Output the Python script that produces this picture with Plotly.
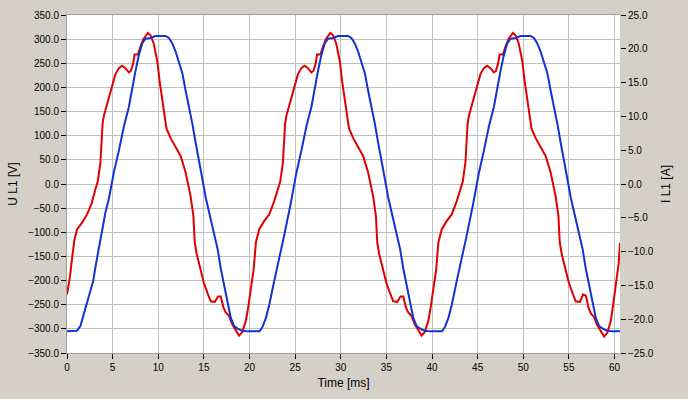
import plotly.graph_objects as go

# ---- Voltage U L1 [V] (left axis), red ----
red_time_1 = [0, 0.3, 0.55, 0.8, 1.1, 1.65, 2.2, 2.7, 3.1, 3.37, 3.66, 3.8, 3.9, 4.05, 4.4, 4.76,
              5.05, 5.3, 5.68, 6.04, 6.4, 6.78, 7.0, 7.25, 7.4, 7.77, 8.06, 8.4, 8.86, 9.16, 9.5, 9.9,
              10.15, 10.44, 10.7, 10.9, 11.36, 11.9, 12.45, 13.0, 13.3, 13.55, 13.85, 14.0, 14.2, 14.6,
              15.0, 15.4, 15.75, 16.2, 16.55, 16.85, 17.15, 17.4, 17.75, 18.1, 18.5, 18.85, 19.2, 19.6, 19.85]
red_volt_1 = [-229, -195, -155, -117, -94, -80, -63, -40, -12, 5, 44, 100, 125, 142, 166, 190,
              207, 227, 240, 245, 240, 231, 234, 250, 268, 268, 285, 301, 313, 308, 291, 254,
              213, 173, 139, 115, 95, 78, 58, 24, 0, -26, -66, -121, -144, -175,
              -205, -226, -243, -244, -233, -233, -256, -266, -273, -290, -304, -314, -307, -283, -256]

red_time_2 = [20.15, 20.45, 20.7, 21.06, 21.6, 22.16, 22.7, 23.1, 23.37, 23.66, 23.8, 23.9, 24.05, 24.4, 24.76,
              25.05, 25.3, 25.68, 26.04, 26.4, 26.78, 27.0, 27.25, 27.4, 27.77, 28.06, 28.4, 28.86, 29.16, 29.5, 29.9,
              30.15, 30.44, 30.7, 30.9, 31.36, 31.9, 32.45, 33.0, 33.3, 33.55, 33.85, 34.0, 34.2, 34.6,
              35.0, 35.4, 35.75, 36.2, 36.55, 36.85, 37.15, 37.4, 37.75, 38.1, 38.5, 38.85, 39.2, 39.6, 39.85]
red_volt_2 = [-216, -178, -121, -94, -77, -63, -36, -12, 5, 44, 100, 125, 142, 166, 190,
              207, 227, 240, 245, 240, 231, 234, 250, 268, 268, 285, 301, 313, 308, 291, 254,
              213, 173, 139, 115, 95, 78, 58, 24, 0, -26, -66, -121, -144, -175,
              -205, -226, -243, -244, -233, -233, -256, -266, -273, -290, -304, -314, -307, -283, -256]

red_time_3 = [40.15, 40.45, 40.7, 41.06, 41.6, 42.16, 42.7, 43.1, 43.37, 43.66, 43.8, 43.9, 44.05, 44.4, 44.76,
              45.05, 45.3, 45.68, 46.04, 46.4, 46.78, 47.0, 47.25, 47.4, 47.77, 48.06, 48.4, 48.86, 49.16, 49.5, 49.9,
              50.15, 50.44, 50.7, 50.9, 51.36, 51.9, 52.45, 53.0, 53.3, 53.55, 53.85, 54.0, 54.2, 54.6,
              55.0, 55.4, 55.75, 56.2, 56.55, 56.85, 57.15, 57.4, 57.75, 58.1, 58.5, 58.85, 59.2, 59.6, 59.85,
              60.15, 60.45, 60.6]
red_volt_3 = [-216, -178, -121, -94, -77, -63, -36, -12, 5, 44, 100, 125, 142, 166, 190,
              207, 227, 240, 245, 240, 231, 234, 250, 268, 268, 285, 301, 313, 308, 291, 254,
              213, 173, 139, 115, 95, 78, 58, 24, 0, -26, -66, -121, -144, -175,
              -205, -226, -243, -244, -229, -231, -256, -268, -275, -292, -306, -316, -309, -283, -250,
              -208, -165, -122]

# ---- Current I L1 [A] (right axis), blue ----
blue_time_1 = [0, 1.1, 1.47, 1.83, 2.38, 2.86, 3.22, 3.59, 3.85, 4.2, 4.6, 5.13, 5.68, 6.23, 6.78, 7.14,
               7.5, 7.88, 8.24, 8.6, 9.16, 9.7, 10.8, 11.17, 11.54, 11.9, 12.27, 12.64, 13.0, 13.37, 13.74,
               14.1, 14.47, 14.84, 15.2, 15.4, 15.75, 16.1, 16.5, 16.85, 17.2, 17.6, 17.95, 18.3, 18.7, 19.2, 19.8]
blue_amp_1 = [-21.8, -21.7, -21.0, -19.3, -16.9, -14.4, -11.5, -8.6, -6.9, -4.3, -2.1, 1.7, 4.9, 8.5, 11.4, 14.3,
              16.7, 19.1, 20.8, 21.5, 21.6, 21.9, 21.9, 21.6, 20.8, 19.6, 18.1, 16.4, 13.8, 11.4, 8.9,
              6.1, 3.6, 0.7, -2.0, -3.2, -5.2, -7.1, -9.6, -12.5, -14.9, -17.9, -19.8, -21.0, -21.4, -21.7, -21.8]

blue_time_2 = [21.1, 21.4, 21.8, 22.16, 22.7, 23.26, 23.8, 24.5, 25.13, 25.68, 26.23, 26.78, 27.14,
               27.5, 27.88, 28.24, 28.6, 29.16, 29.7, 30.8, 31.17, 31.54, 31.9, 32.27, 32.64, 33.0, 33.37, 33.74,
               34.1, 34.47, 34.84, 35.2, 35.4, 35.75, 36.1, 36.5, 36.85, 37.2, 37.6, 37.95, 38.3, 38.7, 39.2, 39.8]
blue_amp_2 = [-21.8, -21.2, -19.8, -17.9, -14.4, -11.1, -7.6, -3.0, 1.6, 4.9, 8.5, 11.4, 14.3,
              16.7, 19.1, 20.8, 21.5, 21.6, 21.9, 21.9, 21.6, 20.8, 19.6, 18.1, 16.4, 13.8, 11.4, 8.9,
              6.1, 3.6, 0.7, -2.0, -3.2, -5.2, -7.1, -9.6, -12.5, -14.9, -17.9, -19.8, -21.0, -21.4, -21.7, -21.8]

blue_time_3 = [41.1, 41.4, 41.8, 42.16, 42.7, 43.26, 43.8, 44.5, 45.13, 45.68, 46.23, 46.78, 47.14,
               47.5, 47.88, 48.24, 48.6, 49.16, 49.7, 50.8, 51.17, 51.54, 51.9, 52.27, 52.64, 53.0, 53.37, 53.74,
               54.1, 54.47, 54.84, 55.2, 55.4, 55.75, 56.1, 56.5, 56.85, 57.2, 57.6, 57.95, 58.3, 58.7, 59.2, 59.8, 60.6]
blue_amp_3 = [-21.8, -21.2, -19.8, -17.9, -14.4, -11.1, -7.6, -3.0, 1.6, 4.9, 8.5, 11.4, 14.3,
              16.7, 19.1, 20.8, 21.5, 21.6, 21.9, 21.9, 21.6, 20.8, 19.6, 18.1, 16.4, 13.8, 11.4, 8.9,
              6.1, 3.6, 0.7, -2.0, -3.2, -5.2, -7.1, -9.6, -12.5, -14.9, -17.9, -19.8, -21.0, -21.4, -21.7, -21.8, -21.8]

red_t = red_time_1 + red_time_2 + red_time_3
red_v = red_volt_1 + red_volt_2 + red_volt_3
blue_t = blue_time_1 + blue_time_2 + blue_time_3
blue_i = blue_amp_1 + blue_amp_2 + blue_amp_3

BG = "#D4D0C8"
GRID = "#C0C0C0"
AXLINE = "#A0A0A0"
FONT = "Liberation Sans, Arial, sans-serif"

fig = go.Figure()
fig.add_trace(go.Scatter(x=red_t, y=red_v, mode="lines", name="U L1",
                         line=dict(color="#E00000", width=2), yaxis="y"))
fig.add_trace(go.Scatter(x=blue_t, y=blue_i, mode="lines", name="I L1",
                         line=dict(color="#1432D2", width=2), yaxis="y2"))

fig.update_layout(
    width=688, height=399,
    margin=dict(l=67, r=68, t=9, b=46, pad=0),
    paper_bgcolor=BG, plot_bgcolor="white",
    showlegend=False,
    font=dict(family=FONT, size=10, color="black"),
    xaxis=dict(range=[0, 60.6], tick0=0, dtick=5, showgrid=True, gridcolor=GRID, gridwidth=1,
               ticks="outside", ticklen=5, tickcolor="black", showline=True, linecolor=AXLINE,
               mirror=True, zeroline=False,
               title=dict(text="Time [ms]", font=dict(size=12), standoff=6)),
    yaxis=dict(range=[-350, 350], tick0=-350, dtick=50, tickformat=".1f", showgrid=True,
               gridcolor=GRID, gridwidth=1, ticks="outside", ticklen=5, tickcolor="black",
               showline=True, linecolor=AXLINE, zeroline=False,
               title=dict(text="U L1 [V]", font=dict(size=12), standoff=7)),
    yaxis2=dict(range=[-25, 25], tick0=-25, dtick=5, tickformat=".1f", overlaying="y", side="right",
                showgrid=False, ticks="outside", ticklen=5, tickcolor="black", showline=False,
                zeroline=False,
                title=dict(text="I L1 [A]", font=dict(size=12), standoff=8)),
)

fig.write_html("out.html", config={"displayModeBar": False},
               post_script="document.body.style.margin='0';document.body.style.background='#D4D0C8';")
